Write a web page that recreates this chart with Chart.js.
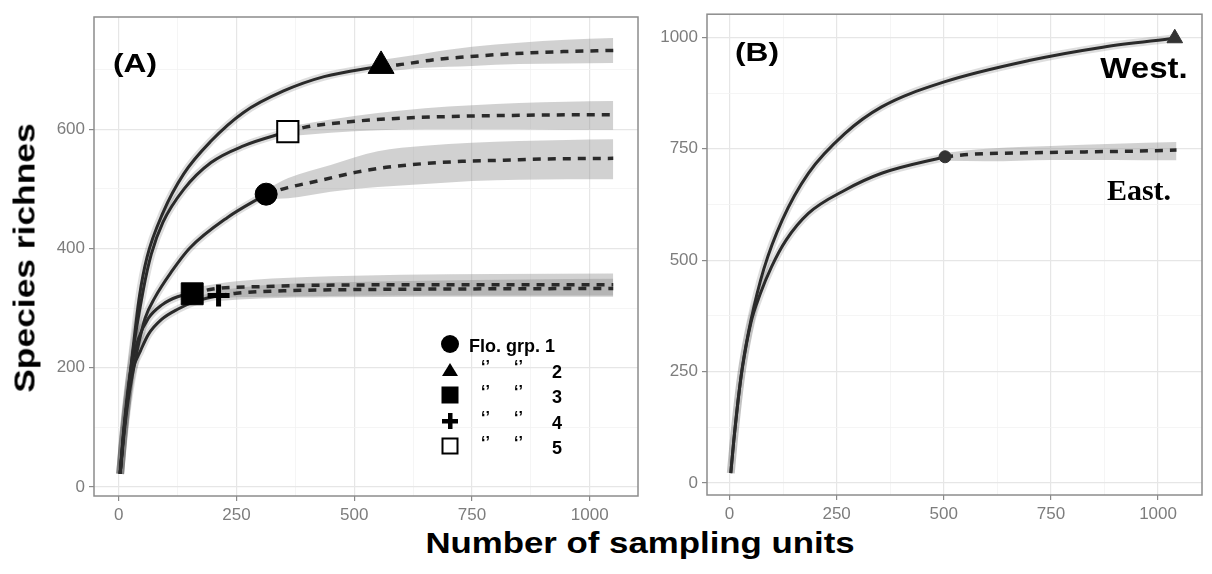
<!DOCTYPE html>
<html>
<head>
<meta charset="utf-8">
<script src="https://cdn.jsdelivr.net/npm/chart.js@4.4.1/dist/chart.umd.min.js"></script>
<style>
  body { margin: 0; background: #fff; }
  #wrap { position: relative; width: 1212px; height: 574px; overflow: hidden;
          font-family: "Liberation Sans", Arial, sans-serif; }
  canvas { position: absolute; }
  .lbl { position: absolute; white-space: nowrap; font-weight: bold; color: #000;
         transform: translate(-50%, -50%); line-height: 1; }
  .leg { position: absolute; font-weight: bold; font-size: 18px; line-height: 1;
         transform: translateY(-50%); white-space: nowrap; }
  .sym { position: absolute; transform: translate(-50%, -50%); }
</style>
</head>
<body>
<div id="wrap">
  <canvas id="chartA" width="615" height="525" style="left:40px;top:0"></canvas>
  <canvas id="chartB" width="557" height="525" style="left:655px;top:0"></canvas>

  <div class="lbl" style="left:25px;top:258px;font-size:29px;transform:translate(-50%,-50%) rotate(-90deg) scaleX(1.22)">Species richnes</div>
  <div class="lbl" style="left:640px;top:543px;font-size:29px;transform:translate(-50%,-50%) scaleX(1.2)">Number of sampling units</div>
  <div class="lbl" style="left:135px;top:63px;font-size:26px;transform:translate(-50%,-50%) scaleX(1.22)">(A)</div>
  <div class="lbl" style="left:757px;top:52px;font-size:26px;transform:translate(-50%,-50%) scaleX(1.22)">(B)</div>
  <div class="lbl" style="left:1144px;top:68px;font-size:30px;transform:translate(-50%,-50%) scaleX(1.1)">West.</div>
  <div class="lbl" style="left:1139px;top:190px;font-size:30px;font-family:'Liberation Serif','Times New Roman',serif">East.</div>

  <div id="legend"></div>
</div>

<script>
'use strict';

//****************************************
//            DATA
//****************************************

// Panel (A) observed (rarefied) curves: [sampling units, species]
const grp1Obs = [[3,22],[10,80],[20,145],[39,228],[56,283],[77,318],[112,361],[150,400],[231,452],[313,491]];
const grp2Obs = [[3,22],[10,85],[20,160],[30,230],[44,320],[60,385],[94,460],[138,525],[196,580],[265,628],[350,664],[436,688],[557,706]];
const grp3Obs = [[3,22],[10,90],[20,165],[29,211],[42,249],[63,283],[91,305],[125,319],[156,324]];
const grp4Obs = [[3,22],[10,88],[20,155],[31,200],[46,228],[63,256],[91,281],[125,298],[165,312],[212,321]];
const grp5Obs = [[3,22],[10,84],[20,158],[30,225],[52,330],[69,390],[94,444],[138,499],[196,544],[265,572],[359,596]];

// Panel (A) extrapolated curves
const grp1Ext = [[313,491],[359,502],[428,514],[505,528],[568,536],[645,542],[729,546],[818,548],[902,550],[1050,551]];
const grp2Ext = [[557,706],[595,708],[666,716],[735,721],[804,725],[875,728],[944,730],[1050,732]];
const grp3Ext = [[156,324],[200,332],[300,336],[400,338],[600,339],[800,339],[1050,339]];
const grp4Ext = [[212,321],[250,325],[350,329],[500,331],[700,332],[1050,333]];
const grp5Ext = [[359,596],[394,603],[484,612],[589,618],[693,621],[833,623],[971,624],[1050,624]];

// Panel (A) confidence bands on the extrapolation
const grp1BandX = [313, 360, 450, 550, 650, 750, 850, 950, 1050];
const grp1Hi    = [499, 518, 540, 563, 572, 577, 580, 582, 583];
const grp1Lo    = [483, 484, 495, 503, 508, 513, 515, 516, 516];
const grp2BandX = [557, 650, 750, 850, 950, 1050];
const grp2Hi    = [716, 727, 738, 745, 750, 753];
const grp2Lo    = [696, 703, 706, 709, 710, 711];
const grp3BandX = [156, 250, 400, 600, 800, 1050];
const grp3Hi    = [334, 345, 352, 356, 357, 358];
const grp3Lo    = [314, 318, 320, 321, 321, 321];
const grp4BandX = [212, 300, 450, 650, 850, 1050];
const grp4Hi    = [330, 338, 343, 346, 348, 349];
const grp4Lo    = [312, 316, 318, 319, 319, 319];
const grp5BandX = [359, 450, 550, 650, 750, 850, 950, 1050];
const grp5Hi    = [604, 616, 627, 635, 640, 644, 646, 647];
const grp5Lo    = [588, 594, 598, 600, 600, 600, 599, 599];

// Panel (B)
const westObs = [[3,22],[10,95],[20,185],[30,260],[50,365],[80,480],[123,590],[184,695],[269,784],[355,844],[501,900],[699,948],[871,978],[1039,998]];
const eastObs = [[3,22],[10,95],[20,185],[30,258],[50,360],[72,425],[98,485],[132,545],[184,605],[269,657],[355,695],[503,732]];
const eastExt = [[503,732],[571,738],[699,741],[829,743],[957,745],[1043,747]];
const eastBandX = [503, 600, 750, 900, 1043];
const eastHi    = [741, 750, 756, 761, 765];
const eastLo    = [723, 722, 725, 725, 724];

// tick labels (major) and the unlabeled minor grid lines
const xTicks  = [0, 250, 500, 750, 1000];
const xMinor  = [125, 375, 625, 875];
const yTicksA = [0, 200, 400, 600];
const yMinorA = [100, 300, 500, 700];
const yTicksB = [0, 250, 500, 750, 1000];
const yMinorB = [125, 375, 625, 875];

const legendRows = [
  { sym: 'circle',   text: ['Flo. grp. 1'] },
  { sym: 'triangle', text: ['\u2018\u2019', '\u2018\u2019', '2'] },
  { sym: 'square',   text: ['\u2018\u2019', '\u2018\u2019', '3'] },
  { sym: 'plus',     text: ['\u2018\u2019', '\u2018\u2019', '4'] },
  { sym: 'open',     text: ['\u2018\u2019', '\u2018\u2019', '5'] }
];

//****************************************
//            HELPER FUNCTIONS
//****************************************

const LINE = '#2a2a2a';
const FONT = '"Liberation Sans", Arial, sans-serif';

function pts(arr) {
  return arr.map(p => ({ x: p[0], y: p[1] }));
}

function zip(xs, ys) {
  return xs.map((x, i) => ({ x: x, y: ys[i] }));
}

function halo(arr) {
  return { data: pts(arr), borderColor: 'rgba(0,0,0,0.13)', borderWidth: 8, pointRadius: 0,
           cubicInterpolationMode: 'monotone', fill: false, order: 2 };
}

function solid(arr) {
  return { data: pts(arr), borderColor: LINE, borderWidth: 3, pointRadius: 0,
           cubicInterpolationMode: 'monotone', fill: false, order: 1 };
}

function dashed(arr) {
  return { data: pts(arr), borderColor: LINE, borderWidth: 3.5, borderDash: [8, 7], pointRadius: 0,
           cubicInterpolationMode: 'monotone', fill: false, order: 1 };
}

// lo and hi must stay next to each other, hi fills down to lo
function band(xs, lo, hi) {
  return [
    { data: zip(xs, lo), borderWidth: 0, pointRadius: 0, cubicInterpolationMode: 'monotone', fill: false, order: 3 },
    { data: zip(xs, hi), borderWidth: 0, pointRadius: 0, cubicInterpolationMode: 'monotone', fill: '-1',
      backgroundColor: 'rgba(140,140,140,0.4)', order: 3 }
  ];
}

function marker(p, style, r, bg, border, bw) {
  return { data: pts([p]), showLine: false, pointStyle: style, pointRadius: r, pointHoverRadius: r,
           pointBackgroundColor: bg, pointBorderColor: border, pointBorderWidth: bw, order: 0 };
}

function isMajor(v, ticks) {
  return ticks.indexOf(v) !== -1;
}

function axis(min, max, major, minor, size) {
  return {
    type: 'linear', min: min, max: max,
    afterBuildTicks: s => {
      s.ticks = major.concat(minor).sort((a, b) => a - b).map(v => ({ value: v }));
    },
    afterFit: s => { if (s.isHorizontal()) { s.height = size; } else { s.width = size; } },
    ticks: {
      autoSkip: false, maxRotation: 0,
      color: '#7d7d7d', font: { family: FONT, size: 17 }, padding: 4,
      callback: v => isMajor(v, major) ? String(v) : ''
    },
    grid: {
      color: c => c.tick && isMajor(c.tick.value, major) ? '#e6e6e6' : '#f2f2f2',
      lineWidth: c => c.tick && isMajor(c.tick.value, major) ? 1.2 : 0.8,
      tickColor: c => c.tick && isMajor(c.tick.value, major) ? '#8a8a8a' : 'rgba(0,0,0,0)',
      tickLength: 5
    },
    border: { display: false }
  };
}

const panelBox = {
  id: 'panelBox',
  afterDraw(chart) {
    const { ctx, chartArea: a } = chart;
    ctx.save();
    ctx.strokeStyle = '#8c8c8c';
    ctx.lineWidth = 1.5;
    ctx.strokeRect(a.left, a.top, a.right - a.left, a.bottom - a.top);
    ctx.restore();
  }
};

function baseOptions(pad, xSize, ySize, yMin, yMax, yMajor, yMinor) {
  return {
    responsive: false,
    animation: false,
    layout: { padding: pad },
    plugins: { legend: { display: false }, tooltip: { enabled: false } },
    events: [],
    scales: {
      x: axis(-52.5, 1102.5, xTicks, xMinor, xSize),
      y: axis(yMin, yMax, yMajor, yMinor, ySize)
    }
  };
}

//****************************************
//            CHART (A)
//****************************************

const dataA = [].concat(
  [marker(grp2Ext[0], 'triangle', 15, '#000', '#000', 1),
   marker(grp5Ext[0], 'rect', 15, '#fff', '#000', 2),
   marker(grp1Ext[0], 'circle', 11, '#000', '#000', 1),
   marker(grp3Ext[0], 'rect', 15.5, '#000', '#000', 1),
   marker(grp4Ext[0], 'cross', 11, '#000', '#000', 5)],
  [solid(grp1Obs), solid(grp2Obs), solid(grp3Obs), solid(grp4Obs), solid(grp5Obs)],
  [dashed(grp1Ext), dashed(grp2Ext), dashed(grp3Ext), dashed(grp4Ext), dashed(grp5Ext)],
  [halo(grp1Obs), halo(grp2Obs), halo(grp3Obs), halo(grp4Obs), halo(grp5Obs)],
  band(grp1BandX, grp1Lo, grp1Hi),
  band(grp2BandX, grp2Lo, grp2Hi),
  band(grp3BandX, grp3Lo, grp3Hi),
  band(grp4BandX, grp4Lo, grp4Hi),
  band(grp5BandX, grp5Lo, grp5Hi)
);

new Chart(document.getElementById('chartA'), {
  type: 'line',
  data: { datasets: dataA },
  options: baseOptions({ top: 13, right: 10, left: 0, bottom: 0 }, 29, 54, -15, 788, yTicksA, yMinorA),
  plugins: [panelBox]
});

//****************************************
//            CHART (B)
//****************************************

const dataB = [].concat(
  [marker(westObs[westObs.length - 1], 'triangle', 9, '#333', '#333', 1),
   marker(eastExt[0], 'circle', 6, '#333', '#333', 1)],
  [solid(westObs), solid(eastObs), dashed(eastExt)],
  [halo(westObs), halo(eastObs)],
  band(eastBandX, eastLo, eastHi)
);

new Chart(document.getElementById('chartB'), {
  type: 'line',
  data: { datasets: dataB },
  options: baseOptions({ top: 12, right: 2, left: 0, bottom: 0 }, 30, 52, -27, 1052, yTicksB, yMinorB),
  plugins: [panelBox]
});

//****************************************
//            LEGEND (A)
//****************************************

function symbolSvg(kind) {
  const s = {
    circle:   '<circle cx="10" cy="10" r="9" fill="#000"/>',
    triangle: '<polygon points="10,3 18,16 2,16" fill="#000"/>',
    square:   '<rect x="1.5" y="1.5" width="17" height="17" fill="#000"/>',
    plus:     '<rect x="8" y="2" width="4.5" height="16" fill="#000"/><rect x="2" y="8" width="16" height="4.5" fill="#000"/>',
    open:     '<rect x="2.5" y="2.5" width="15" height="15" fill="#fff" stroke="#000" stroke-width="2"/>'
  };
  return '<svg width="20" height="20" viewBox="0 0 20 20">' + s[kind] + '</svg>';
}

const legendEl = document.getElementById('legend');
const rowY = [346, 372, 397, 423, 448];
const colX = [481, 514, 557];

legendRows.forEach((row, i) => {
  let html = '<div class="sym" style="left:450px;top:' + rowY[i] + 'px">' + symbolSvg(row.sym) + '</div>';
  if (row.text.length === 1) {
    html += '<div class="leg" style="left:469px;top:' + rowY[i] + 'px">' + row.text[0] + '</div>';
  } else {
    row.text.forEach((t, j) => {
      const small = j < 2;
      html += '<div class="leg" style="left:' + (colX[j] - (small ? 0 : 5)) + 'px;top:' +
        (rowY[i] - (small ? 5 : 0)) + 'px;font-size:' + (small ? 16 : 18) + 'px">' + t + '</div>';
    });
  }
  legendEl.insertAdjacentHTML('beforeend', html);
});
</script>
</body>
</html>
